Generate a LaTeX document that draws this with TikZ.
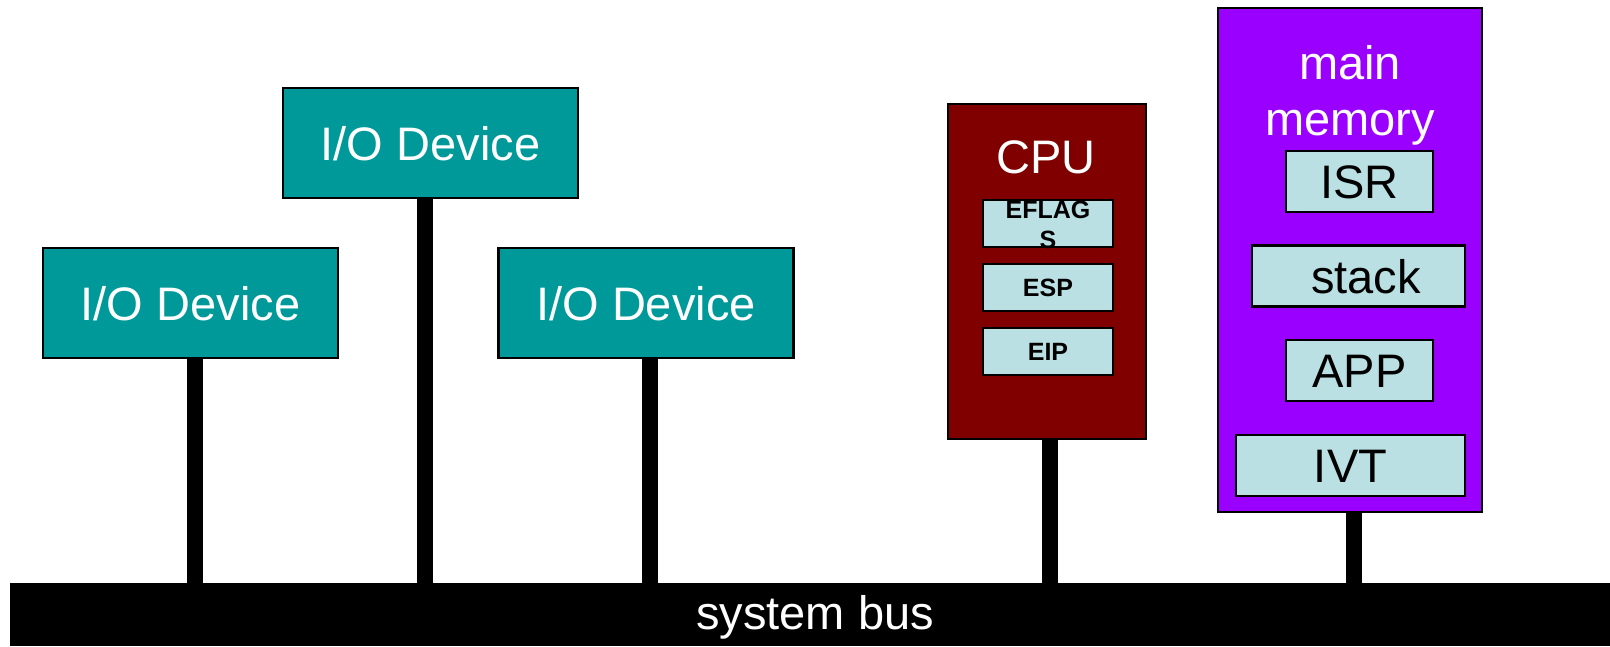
\documentclass[tikz,border=0pt]{standalone}
\usepackage{fontspec}
\setmainfont{Liberation Sans}
\definecolor{iodev}{HTML}{009999}
\definecolor{cpured}{HTML}{800000}
\definecolor{mempurple}{HTML}{9900FF}
\definecolor{regblue}{HTML}{BAE0E3}
\begin{document}
\begin{tikzpicture}[x=1pt,y=-1pt,
  box/.style={draw=black, line width=2.4pt, inner sep=0pt, outer sep=0pt},
  bigfont/.style={font=\fontsize{47}{56}\selectfont},
  regfont/.style={font=\fontsize{25}{30}\selectfont\bfseries},
  iobox/.style={box, fill=iodev, text=white, bigfont,
    minimum width=295pt, minimum height=110pt, text height=34pt, text depth=0pt},
  membox/.style={box, fill=regblue, text=black, bigfont,
    minimum height=61pt, text height=34pt, text depth=0pt},
  regbox/.style={box, fill=regblue, text=black, regfont,
    minimum width=130pt, minimum height=47pt},
  title/.style={inner sep=0pt, text=white, bigfont, anchor=base, align=center},
  stem/.style={line width=16pt, black}]
\useasboundingbox (0,0) rectangle (1610,646);

% system bus
\node[fill=black, inner sep=0pt, minimum width=1600pt, minimum height=63pt]
  (bus) at (810,614.5) {};
\node[inner sep=0pt, text=white, bigfont, anchor=base] (bustxt) at (815,629) {system bus};

% I/O devices
\node[iobox] (io1) at (190.5,303) {I/O Device};
\node[iobox] (io2) at (430.5,143) {I/O Device};
\node[iobox] (io3) at (646,303) {I/O Device};

% CPU with its registers
\node[box, fill=cpured, minimum width=198pt, minimum height=335pt] (cpu) at (1047,271.5) {};
\node[title] (cputxt) at (1046,173) {CPU};
\node[regbox] (eflags) at (1048,223.5) {};
\node[inner sep=0pt, regfont, align=center, anchor=base]
  (eflagstxt) at (1048,248) {EFLAG\\S};
\node[regbox, text height=17.5pt, text depth=0pt] (esp) at (1048,287.5) {ESP};
\node[regbox, text height=17.5pt, text depth=0pt] (eip) at (1048,351.5) {EIP};

% main memory with its regions
\node[box, fill=mempurple, minimum width=264pt, minimum height=504pt] (mem) at (1350,260) {};
\node[title] (memtxt) at (1350,135) {main\\memory};
\node[membox, minimum width=147pt] (isr) at (1359.5,181.5) {ISR};
\node[membox, minimum width=213pt] (stack) at (1358.5,276) {\hspace*{15pt}stack};
\node[membox, minimum width=147pt] (app) at (1359.5,370.5) {APP};
\node[membox, minimum width=229pt] (ivt) at (1350.5,465.5) {IVT};

% connections to the bus
\draw[stem] ([xshift=4.5pt]io1.south) -- ([xshift=4.5pt]io1.south |- bus.north);
\draw[stem] ([xshift=-5.5pt]io2.south) -- ([xshift=-5.5pt]io2.south |- bus.north);
\draw[stem] ([xshift=4pt]io3.south) -- ([xshift=4pt]io3.south |- bus.north);
\draw[stem] ([xshift=3pt]cpu.south) -- ([xshift=3pt]cpu.south |- bus.north);
\draw[stem] ([xshift=4pt]mem.south) -- ([xshift=4pt]mem.south |- bus.north);
\end{tikzpicture}
\end{document}
